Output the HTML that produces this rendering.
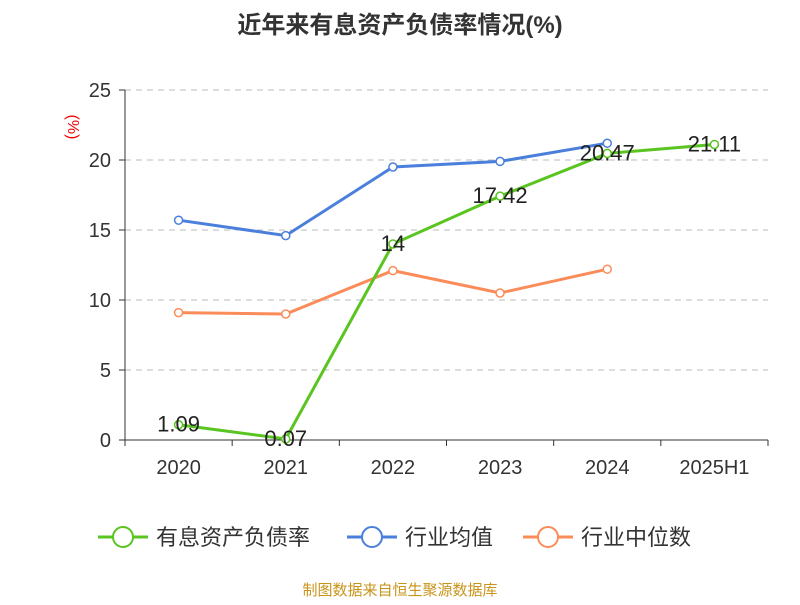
<!DOCTYPE html>
<html><head><meta charset="utf-8"><style>
body{margin:0;background:#fff;}
svg{font-family:"Liberation Sans","Noto Sans CJK SC",sans-serif;}
</style></head><body>
<svg id="c" width="800" height="600">
<text x="400" y="33" text-anchor="middle" font-size="24" font-weight="bold" fill="#333">近年来有息资产负债率情况(%)</text>
<text x="68" y="127" text-anchor="middle" font-size="16" fill="#e00" transform="rotate(90 68 127)">(%)</text>
<text x="400" y="595" text-anchor="middle" font-size="15" fill="#c8941a">制图数据来自恒生聚源数据库</text>
<g id="grid"></g><g id="axes"></g><g id="series"></g><g id="legend"></g>
</svg>
<script>
const categories=["2020","2021","2022","2023","2024","2025H1"];
const debtRatio=[1.09,0.07,14,17.42,20.47,21.11];
const industryAvg=[15.7,14.6,19.5,19.9,21.2];
const industryMedian=[9.1,9.0,12.1,10.5,12.2];
const yTicks=[0,5,10,15,20,25];
const NS="http://www.w3.org/2000/svg";
const X0=125,X1=768,Y0=440,Y1=90,YMAX=25;
const bw=(X1-X0)/categories.length;
const xs=i=>X0+bw*(i+0.5);
const ys=v=>Y0-(v/YMAX)*(Y0-Y1);
function mk(tag,attrs,parent){const e=document.createElementNS(NS,tag);for(const k in attrs)e.setAttribute(k,attrs[k]);parent.appendChild(e);return e;}
const grid=document.getElementById('grid'),axes=document.getElementById('axes'),ser=document.getElementById('series'),leg=document.getElementById('legend');
yTicks.forEach(t=>{
  if(t>0){const l=mk('line',{x1:X0,x2:X1,y1:ys(t),y2:ys(t),stroke:'#bbb','stroke-dasharray':'6,5'},grid);
  
  }
  const tk=mk('line',{x1:X0-6,x2:X0,y1:ys(t),y2:ys(t),stroke:'#333'},axes);
  
  
  const tx=mk('text',{x:X0-14,y:ys(t)+7,'text-anchor':'end','font-size':20,fill:'#333'},axes);tx.textContent=t;
  
  
});
const ya=mk('line',{x1:X0,x2:X0,y1:Y1,y2:Y0,stroke:'#333'},axes);


const xa=mk('line',{x1:X0,x2:X1,y1:Y0,y2:Y0,stroke:'#333'},axes);


categories.forEach((c,i)=>{
  const tk=mk('line',{x1:X0+bw*i,x2:X0+bw*i,y1:Y0,y2:Y0+6,stroke:'#333'},axes);
  
  
  const tx=mk('text',{x:xs(i),y:474,'text-anchor':'middle','font-size':20,fill:'#333'},axes);tx.textContent=c;
  
  
});
const endTk=mk('line',{x1:X1,x2:X1,y1:Y0,y2:Y0+6,stroke:'#333'},axes);


function series(data,color,name,labels){
  const pts=data.map((v,i)=>xs(i)+','+ys(v)).join(' ');
  const pl=mk('polyline',{points:pts,fill:'none',stroke:color,'stroke-width':3},ser);
  
  
  data.forEach((v,i)=>{
    const c=mk('circle',{cx:xs(i),cy:ys(v),r:4,fill:'#fff',stroke:color,'stroke-width':1.5},ser);
    
    
    if(labels){const t=mk('text',{x:xs(i),y:ys(v)+7,'text-anchor':'middle','font-size':22,fill:'#222'},ser);t.textContent=v;
    
    }
  });
}
series(industryAvg,'#4a7fdc','industry-average',false);
series(industryMedian,'#fb8c5a','industry-median',false);
series(debtRatio,'#5ac421','debt-ratio',true);
[["有息资产负债率",'#5ac421',98],["行业均值",'#4a7fdc',347],["行业中位数",'#fb8c5a',523]].forEach(([n,c,x],k)=>{
  const g=mk('g',{},leg);
  
  
  mk('line',{x1:x,x2:x+50,y1:537,y2:537,stroke:c,'stroke-width':3},g);
  mk('circle',{cx:x+25,cy:537,r:10,fill:'#fff',stroke:c,'stroke-width':2},g);
  const t=mk('text',{x:x+58,y:545,'font-size':22,fill:'#333'},g);t.textContent=n;
});
</script>
</body></html>
